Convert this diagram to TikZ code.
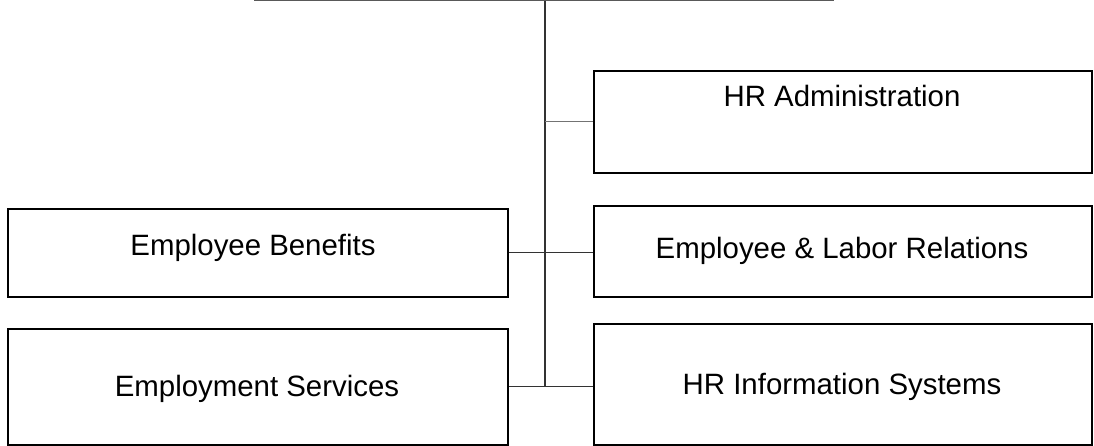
\documentclass[tikz,border=0pt]{standalone}
\usepackage{fontspec}
\setmainfont{Liberation Sans}
\begin{document}
\begin{tikzpicture}[x=1pt,y=-1pt,
  orgbox/.style={draw=black, line width=1.6pt, rectangle, anchor=north west, inner sep=0pt},
  lbl/.style={anchor=base, inner sep=0pt, font=\fontsize{29.4}{35}\selectfont},
  conn/.style={draw=black!80, line width=1.2pt}]
\useasboundingbox (0,0) rectangle (1094,445);
% boxes
\node[orgbox, minimum width=498pt, minimum height=102pt] (admin) at (593,70) {};
\node[orgbox, minimum width=498pt, minimum height=91pt] (labor) at (593,205) {};
\node[orgbox, minimum width=498pt, minimum height=121pt] (infosys) at (593,323) {};
\node[orgbox, minimum width=500pt, minimum height=88pt] (benefits) at (7,208) {};
\node[orgbox, minimum width=500pt, minimum height=116pt] (services) at (7,328) {};
% labels
\node[lbl] (tadmin) at (842,106) {HR Administration};
\node[lbl] (tlabor) at (842,258) {Employee \& Labor Relations};
\node[lbl] (tinfo) at (842,394) {HR Information Systems};
\node[lbl] (tbenef) at (253,255) {Employee Benefits};
\node[lbl] (tserv) at (257,396) {Employment Services};
% connectors
\coordinate (topl) at (254,0.5);
\coordinate (topr) at (834,0.5);
\coordinate (spine) at (545,0.5);
\draw[conn, draw=black!65] (topl) -- (topr);
\draw[conn] (spine) -- (spine |- services.east);
\draw[conn, draw=black!55] (spine |- admin.west) -- (admin.west);
\draw[conn] (benefits.east) -- (benefits.east -| labor.west);
\draw[conn] (services.east) -- (services.east -| infosys.west);
\end{tikzpicture}
\end{document}
